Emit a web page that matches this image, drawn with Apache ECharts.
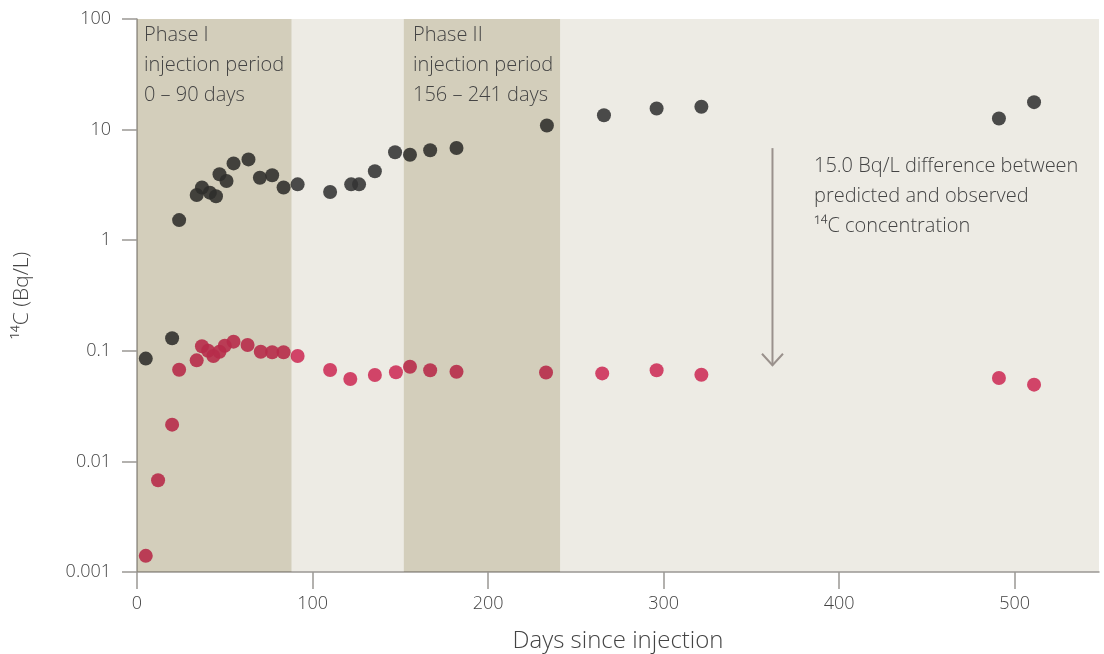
<!DOCTYPE html>
<html>
<head>
<meta charset="utf-8">
<script src="https://cdn.jsdelivr.net/npm/echarts@6/dist/echarts.min.js"></script>
<style>
html,body{margin:0;padding:0;background:#fff;}
#chart{width:1104px;height:654px;}
</style>
</head>
<body>
<div id="chart"></div>
<script>
// ---- data ----
const predictedDays = [5, 20, 24, 34, 37, 41.5, 45, 47, 51, 55, 63.5, 70, 77, 83.5, 91.5, 110, 122, 126.5, 135.5, 147, 155.5, 167, 182, 233.5, 266, 296, 321.5, 491, 511];
const predictedC14  = [0.085, 0.13, 1.52, 2.56, 3.0, 2.69, 2.5, 3.95, 3.43, 4.95, 5.38, 3.67, 3.87, 3.0, 3.2, 2.73, 3.2, 3.2, 4.2, 6.24, 5.93, 6.5, 6.82, 10.9, 13.5, 15.5, 16.1, 12.6, 17.7];
const observedDays  = [5, 12, 20, 24, 34, 37, 40.5, 43.5, 47, 50, 55, 63, 70.5, 77, 83.5, 91.5, 110, 121.5, 135.5, 147.5, 155.5, 167, 182, 233, 265, 296, 321.5, 491, 511];
const observedC14   = [0.0014, 0.00675, 0.0215, 0.0675, 0.082, 0.110, 0.100, 0.0897, 0.098, 0.111, 0.121, 0.113, 0.098, 0.097, 0.097, 0.0897, 0.067, 0.0556, 0.0604, 0.064, 0.0718, 0.0666, 0.0647, 0.0636, 0.0625, 0.0666, 0.0608, 0.0568, 0.0494];
const phaseStart = [0, 152];
const phaseEnd   = [88, 241];
const xTicks = [0, 100, 200, 300, 400, 500];
const yTickLabels = ['0.001', '0.01', '0.1', '1', '10', '100'];
const arrowDay = 362, arrowFrom = 6.8, arrowTo = 0.074;

const FONT = '"Open Sans", Lato, sans-serif';
const TXT = '#444444';

const chart = echarts.init(document.getElementById('chart'), null, {renderer: 'canvas'});

const option = {
  animation: false,
  backgroundColor: '#ffffff',
  grid: {left: 137, right: 5, top: 19, bottom: 82, containLabel: false, outerBoundsMode: 'none',
         show: true, backgroundColor: '#EDEBE4', borderWidth: 0},
  xAxis: {
    type: 'value', min: 0, max: 548, interval: 100,
    name: 'Days since injection', nameLocation: 'middle', nameGap: 57,
    nameTextStyle: {fontFamily: FONT, fontSize: 24, fontWeight: 300, color: TXT},
    axisLine: {show: true, onZero: false, lineStyle: {color: '#9b9894', width: 1.5}},
    axisTick: {show: true, length: 17, customValues: xTicks, lineStyle: {color: '#9b9894', width: 1.5}},
    axisLabel: {customValues: xTicks, margin: 23, fontFamily: FONT, fontSize: 18, fontWeight: 300, color: TXT},
    splitLine: {show: false}
  },
  yAxis: {
    type: 'log', logBase: 10, min: 0.001, max: 100,
    name: '¹⁴C (Bq/L)', nameLocation: 'middle', nameGap: 104, nameRotate: 90,
    nameTextStyle: {fontFamily: FONT, fontSize: 21, fontWeight: 300, color: TXT},
    axisLine: {show: true, lineStyle: {color: '#9b9894', width: 1.5}},
    axisTick: {show: true, length: 15, lineStyle: {color: '#9b9894', width: 1.5}},
    axisLabel: {margin: 26, fontFamily: FONT, fontSize: 18, fontWeight: 300, color: TXT,
      formatter: function (v) {
        const i = Math.round(Math.log10(v)) + 3;
        return yTickLabels[i] !== undefined ? yTickLabels[i] : '';
      }},
    splitLine: {show: false},
    minorTick: {show: false}
  },
  series: [
    {
      name: 'Predicted', type: 'scatter', z: 2,
      symbolSize: 14,
      itemStyle: {color: '#333333', opacity: 0.88},
      data: predictedDays.map((d, i) => [d, predictedC14[i]])
    },
    {
      name: 'Observed', type: 'scatter', z: 2,
      symbolSize: 14,
      itemStyle: {color: '#CD325A', opacity: 0.9},
      data: observedDays.map((d, i) => [d, observedC14[i]])
    },
    {
      name: 'Phases', type: 'custom', z: 5, silent: true,
      blendMode: 'multiply',
      data: phaseStart.map((s, i) => [s, phaseEnd[i]]),
      renderItem: function (params, api) {
        const p0 = api.coord([api.value(0), 100]);
        const p1 = api.coord([api.value(1), 0.001]);
        return {
          type: 'rect',
          shape: {x: p0[0], y: p0[1], width: p1[0] - p0[0], height: p1[1] - p0[1]},
          style: {fill: '#E3E0D1'}
        };
      }
    },
    {
      name: 'Arrow', type: 'custom', z: 6, silent: true,
      data: [[arrowDay, arrowFrom, arrowTo]],
      renderItem: function (params, api) {
        const a = api.coord([api.value(0), api.value(1)]);
        const b = api.coord([api.value(0), api.value(2)]);
        const st = {stroke: '#9a918c', lineWidth: 2, fill: null};
        return {
          type: 'group',
          children: [
            {type: 'line', shape: {x1: a[0], y1: a[1], x2: b[0], y2: b[1]}, style: st},
            {type: 'polyline', shape: {points: [[b[0] - 10.5, b[1] - 11.5], [b[0], b[1]], [b[0] + 10.5, b[1] - 11.5]]}, style: st}
          ]
        };
      }
    }
  ],
  graphic: [
    {type: 'text', left: 144, top: 20, z: 10, style: {text: 'Phase I\ninjection period\n0 – 90 days', font: '300 20px ' + FONT, fill: TXT, lineHeight: 30}},
    {type: 'text', left: 413, top: 20, z: 10, style: {text: 'Phase II\ninjection period\n156 – 241 days', font: '300 20px ' + FONT, fill: TXT, lineHeight: 30}},
    {type: 'text', left: 814, top: 151, z: 10, style: {text: '15.0 Bq/L difference between\npredicted and observed\n¹⁴C concentration', font: '300 20px ' + FONT, fill: TXT, lineHeight: 30}}
  ]
};
chart.setOption(option);
</script>
</body>
</html>
